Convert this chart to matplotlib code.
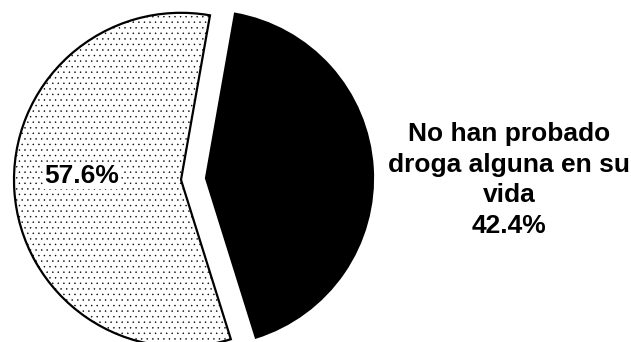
import matplotlib
matplotlib.use("Agg")
import matplotlib.pyplot as plt

labels = ["No han probado\ndroga alguna en su\nvida", ""]
values = [42.4, 57.6]
pct_labels = ["42.4%", "57.6%"]

plt.rcParams['hatch.color'] = 'black'
plt.rcParams['hatch.linewidth'] = 0.3

fig = plt.figure(figsize=(6.31, 3.42), dpi=100)
ax = fig.add_axes([0, 0, 1, 1])

wedges, _ = ax.pie(values, startangle=80, counterclock=False,
                   explode=[0.075, 0.075],
                   colors=['black', 'white'],
                   wedgeprops=dict(linewidth=1.6, edgecolor='black'))
wedges[1].set_hatch('...')

R = 167.0
cx, cy = 193.5, 163.0
ax.set_xlim(-cx / R, (631 - cx) / R)
ax.set_ylim(-cy / R, (342 - cy) / R)
ax.set_aspect('auto')
ax.axis('off')

font = dict(family=['Liberation Sans', 'DejaVu Sans'], fontweight='bold', fontsize=19)
fig.text(82 / 631, 1 - 176 / 342, pct_labels[1], ha='center', va='center',
         bbox=dict(facecolor='white', edgecolor='none', pad=1), **font)
fig.text(509 / 631, 1 - 180 / 342, labels[0] + "\n" + pct_labels[0],
         ha='center', va='center', linespacing=1.36, **font)

fig.savefig("out.png", dpi=100)
